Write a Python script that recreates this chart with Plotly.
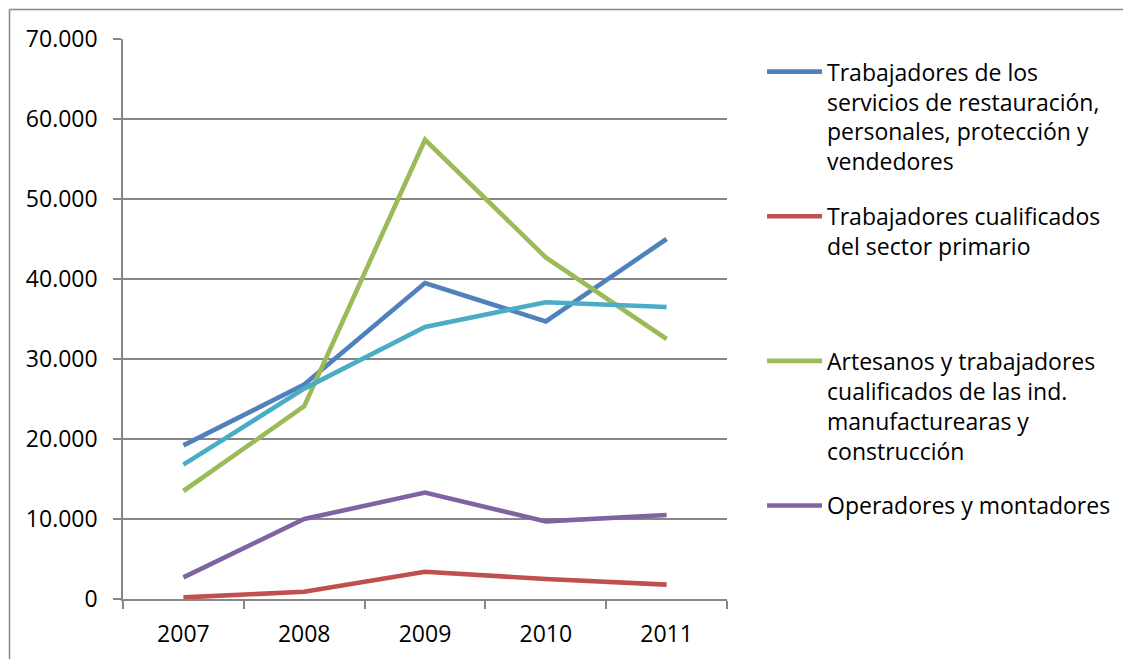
import plotly.graph_objects as go

years = ["2007", "2008", "2009", "2010", "2011"]

servicios = [19200, 26800, 39500, 34700, 45000]
primario = [200, 900, 3400, 2500, 1800]
artesanos = [13500, 24100, 57400, 42700, 32500]
operadores = [2700, 10000, 13300, 9700, 10500]
elementales = [16800, 26300, 34000, 37100, 36500]

names = [
    "Trabajadores de los<br>servicios de restauración,<br>personales, protección y<br>vendedores",
    "Trabajadores cualificados<br>del sector primario<br>\u00a0<br>\u00a0",
    "Artesanos y trabajadores<br>cualificados de las ind.<br>manufacturearas y<br>construcción",
    "Operadores y montadores",
    "Ocupaciones elementales",
]
colors = ["#4F81BD", "#C0504D", "#9BBB59", "#8064A2", "#4BACC6"]
series = [servicios, primario, artesanos, operadores, elementales]
show = [True, True, True, True, False]

FONT = "Open Sans, Liberation Sans, sans-serif"
GRAY = "#878787"

# page body has an 8px default margin; plot area target on screen: x 123..727, y 39..599
OFF = 8
L, R, T, B = 123 - OFF, 727 - OFF, 39 - OFF, 599 - OFF
W, H = 1131, 659
PW, PH = R - L, B - T

fig = go.Figure()
for i in range(5):
    fig.add_trace(go.Scatter(
        x=years, y=series[i], mode="lines", name=names[i],
        line=dict(color=colors[i], width=4.6),
        showlegend=show[i], legendgroup=f"g{i}",
        hoverinfo="skip",
    ))

bx0 = (9.5 - 123) / PW
bx1 = (1400 - 123) / PW
by0 = (599 - 900) / PH
by1 = (599 - 9.5) / PH

fig.update_layout(
    width=W, height=H,
    margin=dict(l=L, r=W - R, t=T, b=H - B, autoexpand=False),
    paper_bgcolor="white", plot_bgcolor="white",
    separators=",.",
    font=dict(family=FONT, size=23, color="#000000"),
    showlegend=True,
    legend=dict(
        x=1.058, y=0.98, xanchor="left", yanchor="top",
        font=dict(family=FONT, size=23, color="#000000"),
        valign="top", itemwidth=55, tracegroupgap=22,
        bgcolor="rgba(0,0,0,0)", borderwidth=0,
    ),
    xaxis=dict(
        type="category", range=[-0.5, 4.5],
        showgrid=False, showline=True, linecolor=GRAY, linewidth=1.5,
        ticks="outside", tickson="boundaries", ticklen=8, tickcolor=GRAY, tickwidth=1.5,
        ticklabelstandoff=14,
        tickfont=dict(family=FONT, size=23, color="#000000"),
    ),
    yaxis=dict(
        range=[0, 70000], dtick=10000, tick0=0, tickformat=",d",
        showgrid=True, gridcolor=GRAY, gridwidth=1.5,
        showline=True, linecolor=GRAY, linewidth=1.5, zeroline=False,
        ticks="outside", ticklen=8, tickcolor=GRAY, tickwidth=1.5,
        ticklabelstandoff=11,
        tickfont=dict(family=FONT, size=23, color="#000000"),
    ),
    shapes=[
        dict(type="line", xref="paper", yref="paper",
             x0=bx0, x1=bx1, y0=by1, y1=by1,
             line=dict(color=GRAY, width=1.5), layer="below"),
        dict(type="line", xref="paper", yref="paper",
             x0=bx0, x1=bx0, y0=by0, y1=by1,
             line=dict(color=GRAY, width=1.5), layer="below"),
    ],
)

fig.write_html("out.html")
